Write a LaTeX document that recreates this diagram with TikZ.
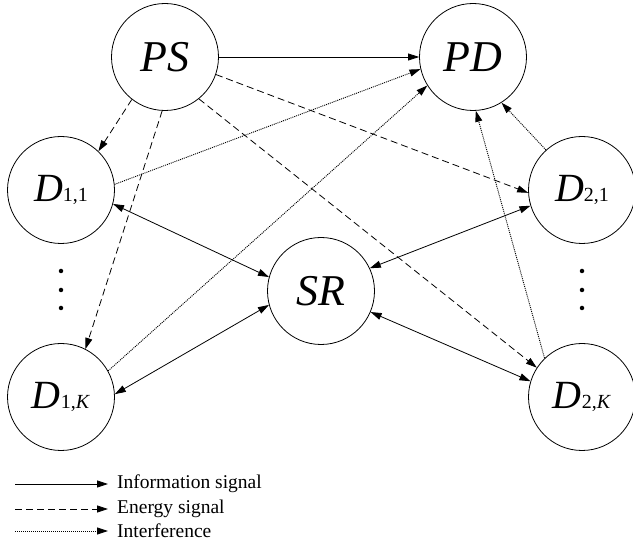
\documentclass[tikz,border=0pt]{standalone}
\usepackage{fontspec}
\setmainfont{Liberation Serif}
\usetikzlibrary{arrows.meta}
\begin{document}
\begin{tikzpicture}[x=1pt,y=-1pt,
  >={Triangle[length=11pt,width=7pt]},
  nd/.style={circle,draw,line width=0.8pt,minimum size=107pt,inner sep=0pt},
  info/.style={->,line width=0.8pt},
  energy/.style={->,line width=0.8pt,dash pattern=on 7pt off 4pt},
  interf/.style={->,line width=0.9pt,dash pattern=on 1pt off 1pt},
  big/.style={font=\fontsize{44}{44}\selectfont\itshape},
  dfont/.style={font=\fontsize{40}{40}\selectfont},
  leg/.style={anchor=west,font=\fontsize{19.5}{19.5}\selectfont,inner sep=0pt},
  dotm/.style={circle,fill,inner sep=0pt,minimum size=4.5pt}
]
\useasboundingbox (0,0) rectangle (633,545);
\newcommand{\Dlab}[2]{\textit{D}{\fontsize{20}{20}\selectfont #1,#2}}
\node[nd,big] (PS) at (165,57) {PS};
\node[nd,big] (PD) at (473,57) {PD};
\node[nd,big] (SR) at (321,291) {SR};
\node[nd,dfont] (D11) at (61,190) {\Dlab{1}{1}};
\node[nd,dfont] (D1K) at (61,397) {\Dlab{1}{\textit{K}}};
\node[nd,dfont] (D21) at (582,190) {\Dlab{2}{1}};
\node[nd,dfont] (D2K) at (582,397) {\Dlab{2}{\textit{K}}};
\foreach \i/\y in {1/271,2/290,3/308}{
  \node[dotm] (la\i) at (61,\y) {};
  \node[dotm] (ra\i) at (582,\y) {};
}
% information
\draw[info] (PS.east) -- (PD.west);
\draw[info,<->] (D11.345) -- (SR.165);
\draw[info,<->] (D1K.3) -- (SR.195);
\draw[info,<->] (D21.197) -- (SR.25);
\draw[info,<->] (D2K.163) -- (SR.337);
% energy
\draw[energy] (PS.232) -- (D11.46);
\draw[energy] (PS.267) -- (D1K.63);
\draw[energy] (PS.341) -- (D21.183);
\draw[energy] (PS.309) -- (D2K.147);
% interference
\draw[interf] (D11.6) -- (PD.193);
\draw[interf] (D1K.29) -- (PD.212);
\draw[interf] (D21.132) -- (PD.302);
\draw[interf] (D2K.134) -- (PD.273);
% legend
\coordinate (l1a) at (15,484); \coordinate (l1b) at (108,484);
\coordinate (l2a) at (15,509); \coordinate (l2b) at (108,509);
\coordinate (l3a) at (15,531); \coordinate (l3b) at (108,531);
\draw[info] (l1a) -- (l1b);
\draw[energy] (l2a) -- (l2b);
\draw[interf] (l3a) -- (l3b);
\node[leg] (t1) at (117,484) {Information signal};
\node[leg] (t2) at (117,509) {Energy signal};
\node[leg] (t3) at (117,531) {Interference};
\end{tikzpicture}
\end{document}
